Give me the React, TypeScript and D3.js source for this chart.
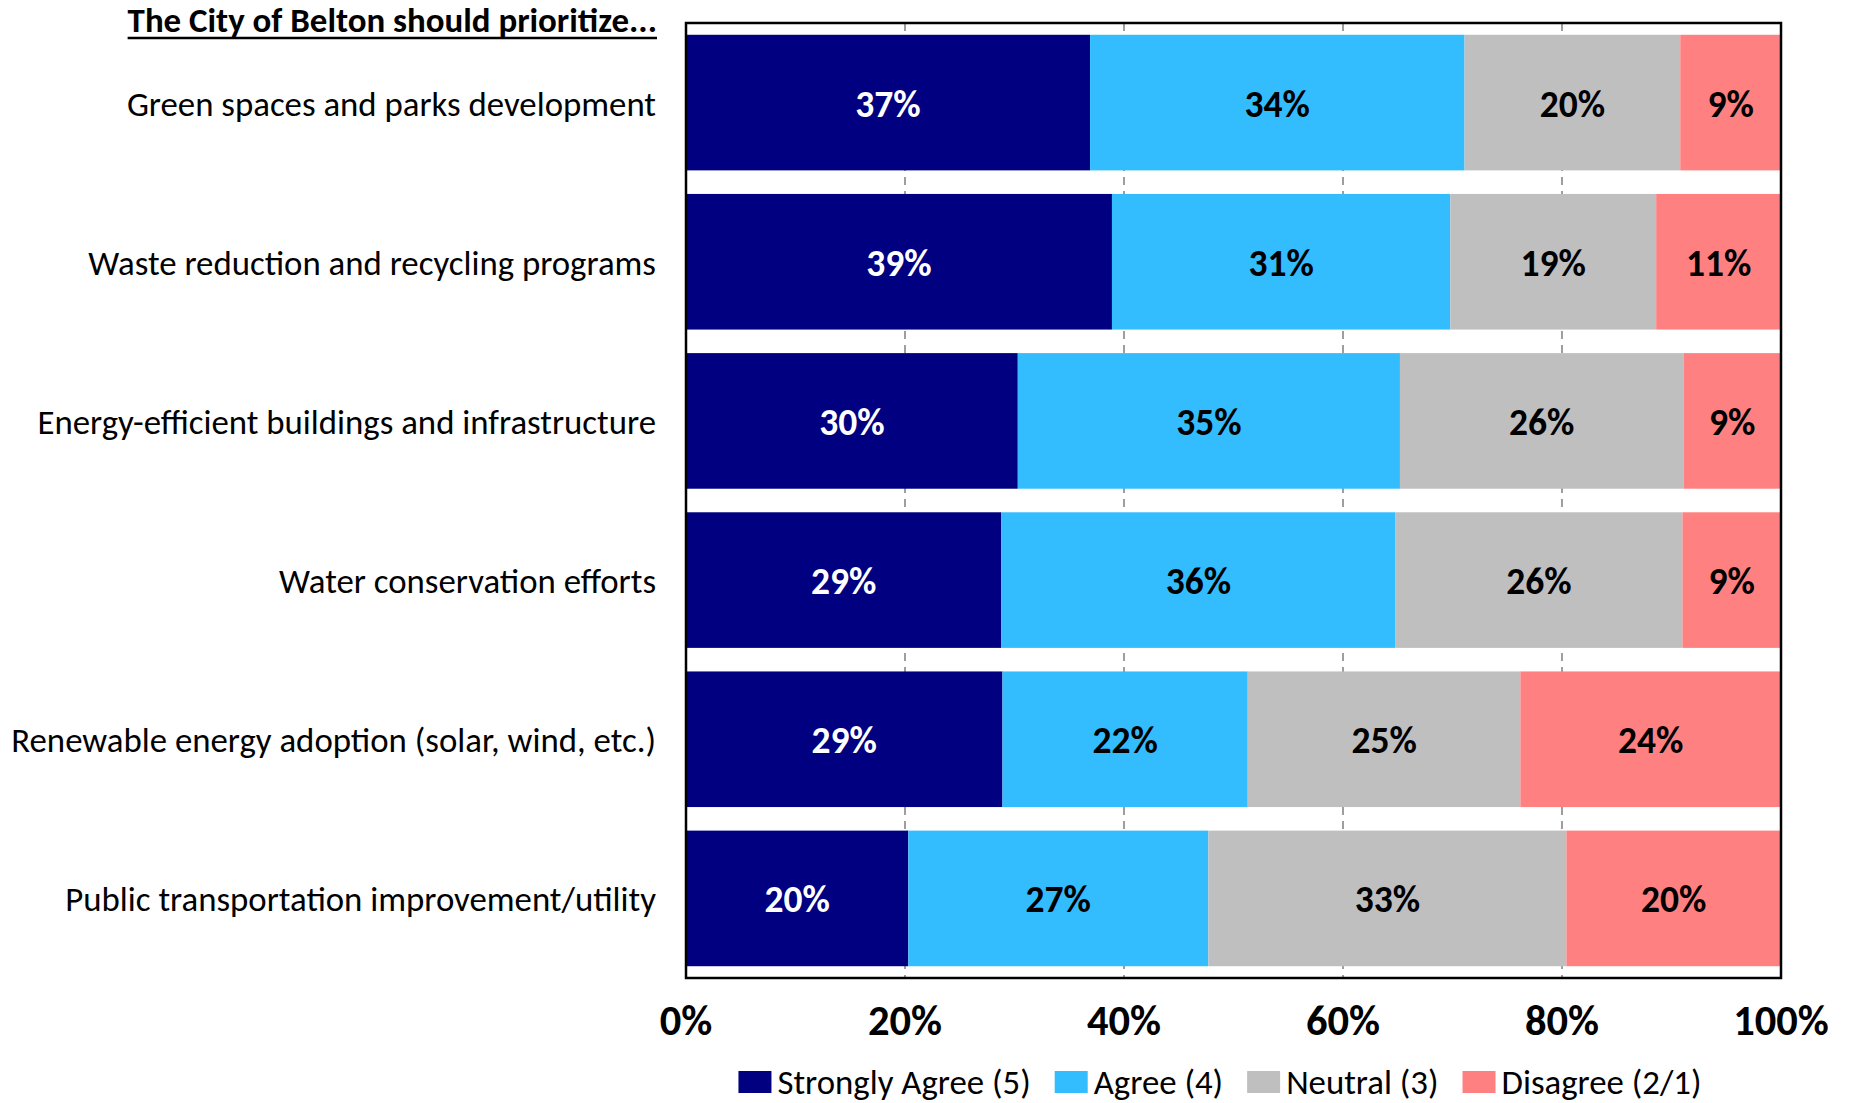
import React, { useEffect, useRef } from "react";
import * as d3 from "d3";

const categories = [
  "Green spaces and parks development",
  "Waste reduction and recycling programs",
  "Energy-efficient buildings and infrastructure",
  "Water conservation efforts",
  "Renewable energy adoption (solar, wind, etc.)",
  "Public transportation improvement/utility",
];

const seriesNames = ["Strongly Agree (5)", "Agree (4)", "Neutral (3)", "Disagree (2/1)"];
const seriesColors = ["#000080", "#33BDFF", "#BFBFBF", "#FF8080"];
const labelColors = ["#FFFFFF", "#000000", "#000000", "#000000"];

const stronglyAgree = [36.9, 38.9, 30.3, 28.8, 28.9, 20.3];
const agree = [34.2, 30.9, 34.9, 36.0, 22.4, 27.4];
const neutral = [19.7, 18.8, 25.9, 26.2, 24.9, 32.7];
const disagree = [9.2, 11.4, 8.9, 9.0, 23.8, 19.6];

const xTicks = [0, 20, 40, 60, 80, 100];
const gridTicks = [20, 40, 60, 80];
const title = "The City of Belton should prioritize...";

const W = 1851;
const H = 1103;
const FONT = "Carlito, Calibri, Lato, 'Open Sans', sans-serif";

export default function App() {
  const ref = useRef<SVGSVGElement | null>(null);

  useEffect(() => {
    document.body.style.margin = "0";
    const svg = d3.select(ref.current);
    svg.selectAll("*").remove();

    const left = 686, right = 1781, top = 23, bottom = 978;
    const x = d3.scaleLinear().domain([0, 100]).range([left, right]);
    const y = d3
      .scaleBand<string>()
      .domain(categories)
      .range([top, bottom])
      .paddingInner(0.148)
      .paddingOuter(0.074);

    const seriesValues = [stronglyAgree, agree, neutral, disagree];
    const rows = categories.map((c, i) => {
      const obj: any = { cat: c };
      seriesNames.forEach((s, k) => (obj[s] = seriesValues[k][i]));
      return obj;
    });
    const stacked = d3.stack<any>().keys(seriesNames)(rows);

    svg.append("rect").attr("width", W).attr("height", H).attr("fill", "#fff");

    // gridlines
    svg
      .append("g")
      .selectAll("line")
      .data(gridTicks)
      .join("line")
      .attr("x1", (d) => x(d))
      .attr("x2", (d) => x(d))
      .attr("y1", top)
      .attr("y2", bottom)
      .attr("stroke", "#7F7F7F")
      .attr("stroke-width", 1.5)
      .attr("stroke-dasharray", "8,6");

    // bars
    const g = svg.append("g");
    stacked.forEach((layer, k) => {
      g.append("g")
        .attr("fill", seriesColors[k])
        .selectAll("rect")
        .data(layer)
        .join("rect")
        .attr("x", (d) => x(d[0]))
        .attr("width", (d) => x(d[1]) - x(d[0]))
        .attr("y", (d) => y(d.data.cat)!)
        .attr("height", y.bandwidth());
    });

    // data labels
    stacked.forEach((layer, k) => {
      g.append("g")
        .selectAll("text")
        .data(layer)
        .join("text")
        .attr("x", (d) => x((d[0] + d[1]) / 2))
        .attr("y", (d) => y(d.data.cat)! + y.bandwidth() / 2 + 14)
        .attr("text-anchor", "middle")
        .attr("font-family", FONT)
        .attr("font-weight", "bold")
        .attr("font-size", 37.5)
        .attr("fill", labelColors[k])
        .text((d) => `${Math.round(d[1] - d[0])}%`);
    });

    // frame
    svg
      .append("rect")
      .attr("x", left)
      .attr("y", top)
      .attr("width", right - left)
      .attr("height", bottom - top)
      .attr("fill", "none")
      .attr("stroke", "#000")
      .attr("stroke-width", 2.5);

    // category labels
    svg
      .append("g")
      .selectAll("text")
      .data(categories)
      .join("text")
      .attr("x", 656)
      .attr("y", (d) => y(d)! + y.bandwidth() / 2 + 13)
      .attr("text-anchor", "end")
      .attr("font-family", FONT)
      .attr("font-size", 34.8)
      .attr("fill", "#000")
      .text((d) => d);

    // title with underline
    const t = svg
      .append("text")
      .attr("x", 657)
      .attr("y", 32)
      .attr("text-anchor", "end")
      .attr("font-family", FONT)
      .attr("font-weight", "bold")
      .attr("font-size", 34.9)
      .attr("fill", "#000")
      .text(title);
    const tw = (t.node() as SVGTextElement).getComputedTextLength();
    svg
      .append("line")
      .attr("x1", 657 - tw)
      .attr("x2", 657)
      .attr("y1", 38)
      .attr("y2", 38)
      .attr("stroke", "#000")
      .attr("stroke-width", 2.5);

    // x tick labels
    svg
      .append("g")
      .selectAll("text")
      .data(xTicks)
      .join("text")
      .attr("x", (d) => x(d))
      .attr("y", 1035)
      .attr("text-anchor", "middle")
      .attr("font-family", FONT)
      .attr("font-weight", "bold")
      .attr("font-size", 42.5)
      .attr("fill", "#000")
      .text((d) => `${d}%`);

    // legend
    const lg = svg.append("g");
    const sw = 33, gapT = 6, gapItem = 24;
    const items = seriesNames.map((name, k) => {
      const it = lg.append("g");
      it.append("rect")
        .attr("y", 1071)
        .attr("width", sw)
        .attr("height", 22)
        .attr("fill", seriesColors[k]);
      const tx = it
        .append("text")
        .attr("x", sw + gapT)
        .attr("y", 1094)
        .attr("font-family", FONT)
        .attr("font-size", 34.8)
        .attr("fill", "#000")
        .text(name);
      const w = (tx.node() as SVGTextElement).getComputedTextLength();
      return { it, w: sw + gapT + w };
    });
    const total = d3.sum(items, (d) => d.w) + gapItem * (items.length - 1);
    let cx = 1220 - total / 2;
    items.forEach((d) => {
      d.it.attr("transform", `translate(${cx},0)`);
      cx += d.w + gapItem;
    });
  }, []);

  return <svg ref={ref} width={W} height={H} style={{ display: "block" }} />;
}
